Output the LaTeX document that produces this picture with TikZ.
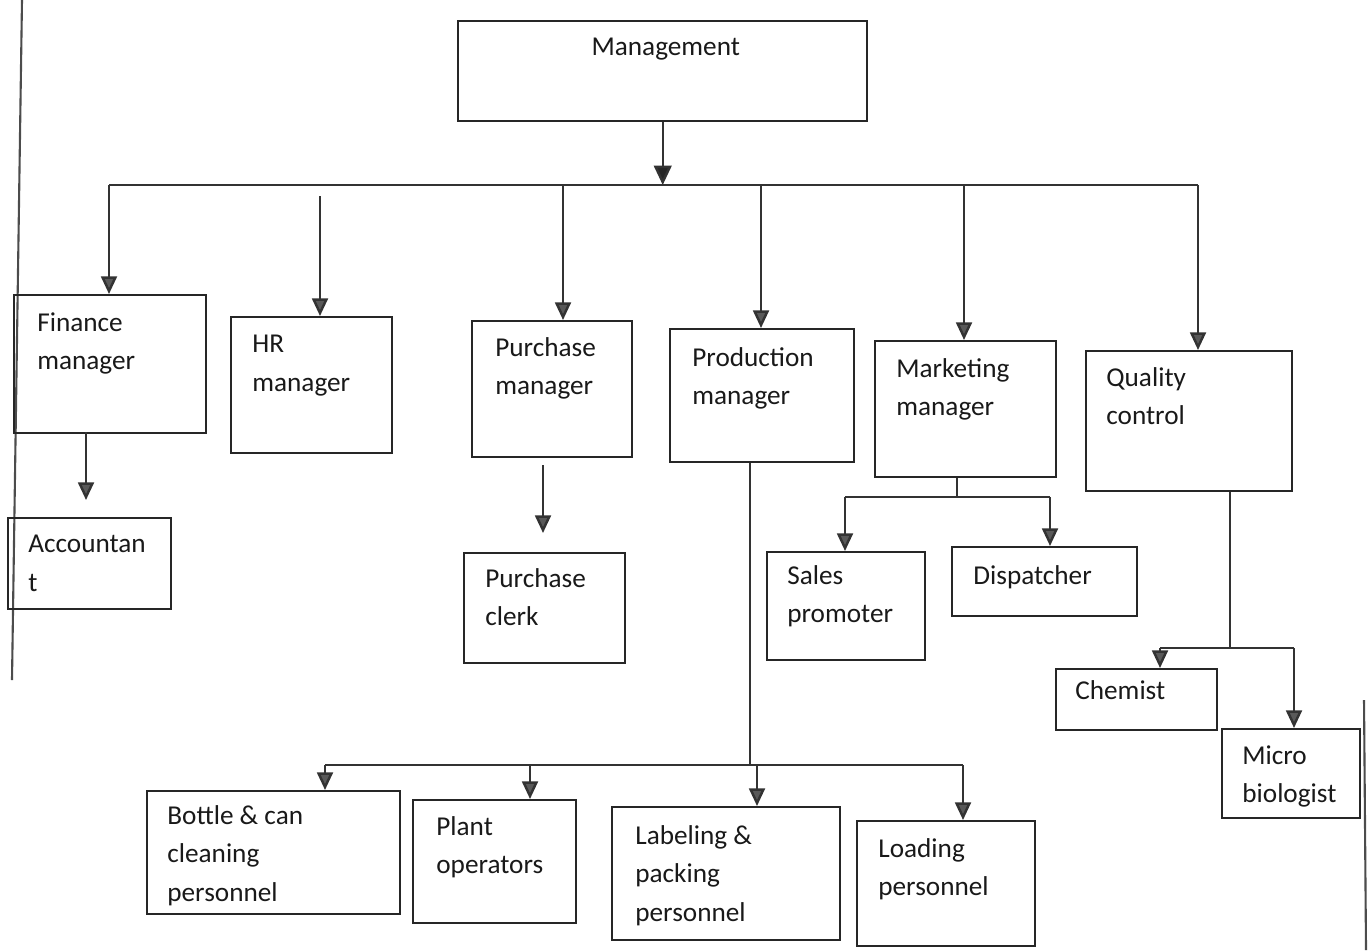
\documentclass[tikz,border=0pt]{standalone}
\usepackage{fontspec}
\setmainfont{Carlito}
\usetikzlibrary{arrows.meta}

\begin{document}
\begin{tikzpicture}[x=0.02cm, y=-0.02cm,
    box/.style 2 args={draw=black!85, line width=1.4pt, rectangle, anchor=north west, inner sep=0pt,
        minimum width=#1*0.02cm, minimum height=#2*0.02cm},
    unittext/.style={anchor=north west, inner sep=0pt, align=left, text=black!90,
        font=\fontsize{15.5}{22}\selectfont},
    link/.style={draw=black!80, line width=1.4pt},
    down/.style={link, -{Triangle[width=9pt,length=10pt,fill=black!65]}}]
    \useasboundingbox (0,0) rectangle (1371,950);

    % page edges of the scan
    \draw[black!70, line width=1.2pt] (22,0) -- (12,680);
    \draw[black!70, line width=1.2pt] (1364,700) -- (1366,950);

    % boxes
    \node[box={409}{100}] (mgmt) at (457,20) {};
    \node[box={192}{138}] (fin) at (13,294) {};
    \node[box={161}{136}] (hr) at (230,316) {};
    \node[box={160}{136}] (pur) at (471,320) {};
    \node[box={184}{133}] (prod) at (669,328) {};
    \node[box={181}{136}] (mkt) at (874,340) {};
    \node[box={206}{140}] (qc) at (1085,350) {};
    \node[box={163}{91}] (acc) at (7,517) {};
    \node[box={161}{110}] (clerk) at (463,552) {};
    \node[box={158}{108}] (sales) at (766,551) {};
    \node[box={185}{69}] (disp) at (951,546) {};
    \node[box={161}{61}] (chem) at (1055,668) {};
    \node[box={138}{89}] (micro) at (1221,728) {};
    \node[box={253}{123}] (bottle) at (146,790) {};
    \node[box={163}{123}] (plant) at (412,799) {};
    \node[box={228}{133}] (label) at (611,806) {};
    \node[box={178}{125}] (load) at (856,820) {};

    % texts
    \node[unittext, anchor=north] (mgmt-t) at ([shift={(3,18)}]mgmt.north) {Management};
    \node[unittext] (fin-t) at ([shift={(24,18)}]fin.north west) {Finance\\manager};
    \node[unittext] (hr-t) at ([shift={(22,19)}]hr.north west) {HR\\manager};
    \node[unittext] (pur-t) at ([shift={(24,17)}]pur.north west) {Purchase\\manager};
    \node[unittext] (prod-t) at ([shift={(23,19)}]prod.north west) {Production\\manager};
    \node[unittext] (mkt-t) at ([shift={(22,18)}]mkt.north west) {Marketing\\manager};
    \node[unittext] (qc-t) at ([shift={(21,17)}]qc.north west) {Quality\\control};
    \node[unittext] (acc-t) at ([shift={(21,18)}]acc.north west) {Accountan\\t};
    \node[unittext] (clerk-t) at ([shift={(22,16)}]clerk.north west) {Purchase\\clerk};
    \node[unittext] (sales-t) at ([shift={(21,14)}]sales.north west) {Sales\\promoter};
    \node[unittext] (disp-t) at ([shift={(22,19)}]disp.north west) {Dispatcher};
    \node[unittext] (chem-t) at ([shift={(20,12)}]chem.north west) {Chemist};
    \node[unittext] (micro-t) at ([shift={(21,17)}]micro.north west) {Micro\\biologist};
    \node[unittext] (bottle-t) at ([shift={(21,15)}]bottle.north west) {Bottle \& can\\cleaning\\personnel};
    \node[unittext] (plant-t) at ([shift={(24,17)}]plant.north west) {Plant\\operators};
    \node[unittext] (label-t) at ([shift={(24,19)}]label.north west) {Labeling \&\\packing\\personnel};
    \node[unittext] (load-t) at ([shift={(22,18)}]load.north west) {Loading\\personnel};

    % management to managers
    \coordinate (b-fin) at (109,185);
    \coordinate (b-hr) at (320,196);
    \coordinate (b-pur) at (563,185);
    \coordinate (b-prod) at (761,185);
    \coordinate (b-mkt) at (964,185);
    \coordinate (b-qc) at (1198,185);
    \draw[down, -{Triangle[width=10pt,length=11pt,fill=black!85]}] (mgmt.south) -- (mgmt.south |- b-fin);
    \draw[link] (b-fin) -- (b-qc);
    \draw[down] (b-fin) -- (b-fin |- fin.north);
    \draw[down] (b-hr) -- (b-hr |- hr.north);
    \draw[down] (b-pur) -- (b-pur |- pur.north);
    \draw[down] (b-prod) -- (b-prod |- prod.north);
    \draw[down] (b-mkt) -- (b-mkt |- mkt.north);
    \draw[down] (b-qc) -- (b-qc |- qc.north);

    % finance and purchase
    \coordinate (f-stem) at (86,432);
    \draw[down, shorten >=0.34cm] (f-stem) -- (f-stem |- acc.north);
    \coordinate (c-stem) at (543,456);
    \draw[down, shorten <=0.18cm, shorten >=0.38cm] (c-stem) -- (c-stem |- clerk.north);

    % marketing
    \coordinate (m-bus) at (957,497);
    \coordinate (m-sales) at (845,497);
    \coordinate (m-disp) at (1050,497);
    \draw[link] (m-bus |- mkt.south) -- (m-bus);
    \draw[link] (m-sales) -- (m-disp);
    \draw[down] (m-sales) -- (m-sales |- sales.north);
    \draw[down] (m-disp) -- (m-disp |- disp.north);

    % quality control
    \coordinate (q-bus) at (1230,648);
    \coordinate (q-chem) at (1160,648);
    \coordinate (q-micro) at (1294,648);
    \draw[link] (q-bus |- qc.south) -- (q-bus);
    \draw[link] (q-chem) -- (q-micro);
    \draw[down] (q-chem) -- (q-chem |- chem.north);
    \draw[down] (q-micro) -- (q-micro |- micro.north);

    % production
    \coordinate (p-bus) at (750,765);
    \coordinate (p-bottle) at (325,765);
    \coordinate (p-plant) at (530,765);
    \coordinate (p-label) at (757,765);
    \coordinate (p-load) at (963,765);
    \draw[link] (p-bus |- prod.south) -- (p-bus);
    \draw[link] (p-bottle) -- (p-load);
    \draw[down] (p-bottle) -- (p-bottle |- bottle.north);
    \draw[down] (p-plant) -- (p-plant |- plant.north);
    \draw[down] (p-label) -- (p-label |- label.north);
    \draw[down] (p-load) -- (p-load |- load.north);
\end{tikzpicture}
\end{document}
